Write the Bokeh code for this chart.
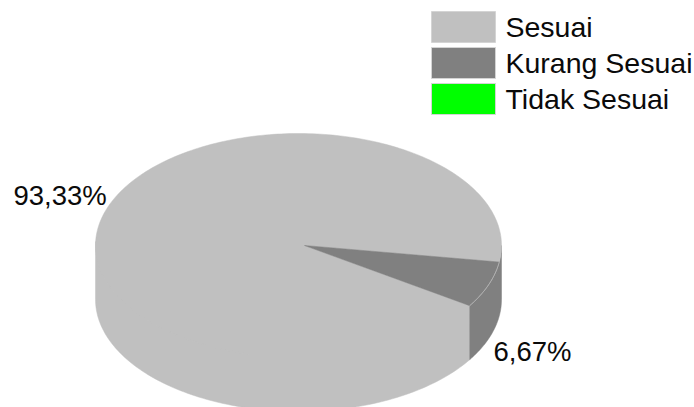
import numpy as np
from bokeh.plotting import figure
from bokeh.embed import file_html
from bokeh.resources import INLINE
from bokeh.core.properties import value

categories = ["Sesuai", "Kurang Sesuai", "Tidak Sesuai"]
shares = [93.33, 6.67, 0.0]
pct_labels = ["93,33%", "6,67%"]
colors = ["#c0c0c0", "#808080", "#00ff00"]

W, H = 694, 407
p = figure(width=W, height=H, x_range=(0, W), y_range=(H, 0),
           output_backend="svg", toolbar_location=None, min_border=0)
p.axis.visible = False
p.grid.visible = False
p.outline_line_color = None
p.background_fill_color = "white"
p.border_fill_color = "white"

cx, cy, rx, ry, depth = 298, 245, 203, 112, 54
apex = (304, 245)
END_OF_KURANG = 32.5

fracs = np.array(shares) / sum(shares)
spans = fracs * 360
starts = {1: END_OF_KURANG - spans[1], 0: END_OF_KURANG}
ends = {1: END_OF_KURANG, 0: END_OF_KURANG + spans[0]}


def arc(t0, t1, n=120):
    t = np.radians(np.linspace(t0, t1, n))
    return cx + rx * np.cos(t), cy + ry * np.sin(t)


# side walls (front half of the cylinder only); the large one runs up under
# the top face so no seam shows between them
x, y = arc(starts[0], 180)
p.patch(np.r_[x, x[::-1]], np.r_[y - 4, y[::-1] + depth],
        fill_color=colors[0], line_color=colors[0], line_width=0.5)
x, y = arc(0, ends[1])
p.patch(np.r_[x, x[::-1]], np.r_[y, y[::-1] + depth],
        fill_color=colors[1], line_color=colors[1], line_width=0.5)

# top faces
for i in (0, 1):
    x, y = arc(starts[i], ends[i], 300)
    p.patch(np.r_[apex[0], x], np.r_[apex[1], y],
            fill_color=colors[i], line_color=colors[i], line_width=0.5)

# light rim along the small slice
x, y = arc(starts[1], ends[1])
p.line(x, y, line_color="#c0c0c0", line_width=1)

# legend
sw_x, sw_w, sw_h = 431, 64, 31
sw_y = [11, 47, 83]
font = value("Liberation Sans")
for c, lab, y0 in zip(colors, categories, sw_y):
    p.quad(left=sw_x, right=sw_x + sw_w, top=y0, bottom=y0 + sw_h,
           fill_color=c, line_color="#d4d4d4", line_width=1)
    p.text([505], [y0 + sw_h / 2], text=[lab], text_font=font,
           text_font_size="28.5px", text_color="#0a0a0a",
           text_align="left", text_baseline="middle")

p.text([13], [195], text=[pct_labels[0]], text_font=font, text_font_size="27.5px",
       text_color="#0a0a0a", text_align="left", text_baseline="middle")
p.text([493], [351], text=[pct_labels[1]], text_font=font, text_font_size="27.5px",
       text_color="#0a0a0a", text_align="left", text_baseline="middle")

open("out.html", "w").write(file_html(p, INLINE))
